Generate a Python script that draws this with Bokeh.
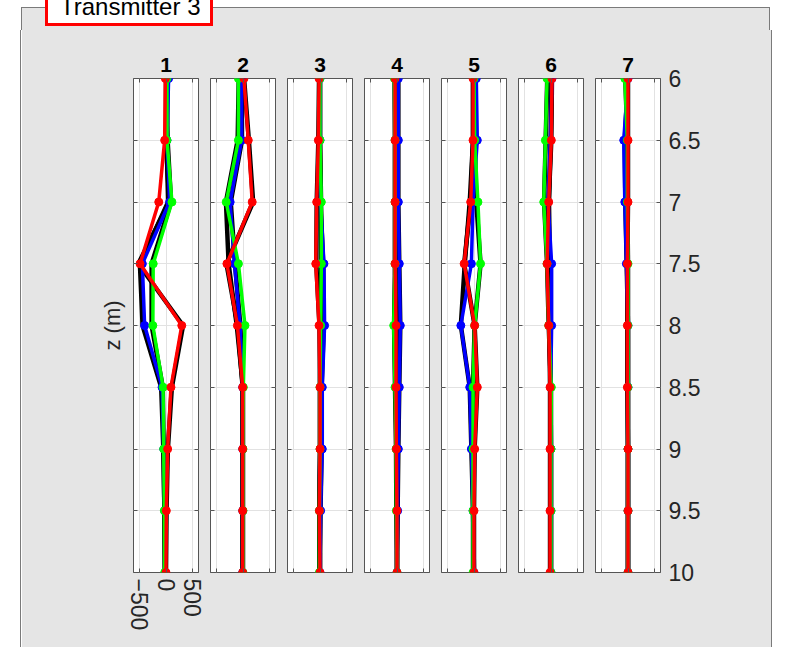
from bokeh.plotting import figure
from bokeh.layouts import row, column
from bokeh.models import Range1d, FixedTicker, LinearAxis, Div, CustomJSTickFormatter
from bokeh.embed import file_html
from bokeh.resources import INLINE

# ---------------- data ----------------
depth = [6, 6.5, 7, 7.5, 8, 8.5, 9, 9.5, 10]
panel_titles = ["1", "2", "3", "4", "5", "6", "7"]
x_ticks = [-500, 0, 500]
x_tick_labels = ["\u2212500", "0", "500"]
y_ticks = [6, 6.5, 7, 7.5, 8, 8.5, 9, 9.5, 10]
y_tick_labels = ["6", "6.5", "7", "7.5", "8", "8.5", "9", "9.5", "10"]
box_title = "Transmitter 3"
y_label = "z (m)"

blue_vals = [
    [49, 19, 68, -444, -401, -74, -43, -25, -12],
    [-25, -25, -241, -160, -55, -6, -6, -6, -6],
    [0, 0, 12, 74, 86, 43, 43, 12, 0],
    [25, 25, 25, 43, 62, 43, 25, 12, 0],
    [43, 62, -18, -49, -247, -80, -49, -18, 0],
    [18, -12, -55, 12, 12, -6, 0, 0, 0],
    [0, -80, -60, -30, 0, 0, 0, 0, 0],
]
green_vals = [
    [19, 19, 111, -240, -247, -55, -43, -31, -25],
    [-86, -86, -315, -86, 37, 6, 0, 0, 0],
    [0, 0, 25, 25, 12, 0, 0, -12, -12],
    [-49, -37, -37, -37, -62, -37, -18, -12, 0],
    [0, 12, 74, 123, 12, -18, -18, -18, -18],
    [-74, -105, -136, -74, -43, 6, 0, 0, 0],
    [-60, -12, -12, 0, 0, 0, 0, 0, 0],
]
red_vals = [
    [-12, -25, -136, -487, 296, 93, 31, 6, 0],
    [18, 99, 173, -302, -105, -6, -6, -6, -6],
    [-18, -31, -62, -80, -18, 0, 0, -12, 0],
    [-37, -37, -37, -37, -18, -18, -12, 0, 0],
    [-18, -18, -62, -185, 12, 62, 12, 0, 0],
    [18, 6, -43, -74, -43, -18, -18, -18, -18],
    [0, 0, 0, -12, -12, -12, 0, 0, 0],
]
black_vals_a = [
    [30, 10, 40, -490, -440, -90, -50, -30, -15],
    [-20, -20, -230, -150, -50, -6, -6, -6, -6],
    [0, 0, 10, 60, 70, 30, 30, 10, 0],
    [25, 25, 25, 43, 62, 43, 25, 12, 0],
    [-18, -18, -80, -173, -247, -80, -49, -18, 0],
    [12, -6, -40, -20, -25, -10, 0, 0, 0],
    [0, -60, -50, -25, 0, 0, 0, 0, 0],
]
black_vals_b = [
    [10, 30, 95, -270, -270, -60, -45, -30, -25],
    [-80, -100, -320, -270, -117, 0, 0, 0, 0],
    [0, 0, 20, 20, 10, 0, 0, -12, -12],
    [-45, -37, -37, -37, -55, -37, -18, -12, 0],
    [0, 12, 43, 123, 12, -18, -18, -18, -18],
    [-70, -100, -130, -74, -43, 0, 0, 0, 0],
    [-50, -12, -12, 0, 0, 0, 0, 0, 0],
]
black_vals_c = [
    [0, 0, 60, -520, 320, 110, 35, 10, 0],
    [20, 110, 190, -310, -100, -6, -6, -6, -6],
    [-18, -31, -62, -70, -10, 0, 0, -12, 0],
    [-37, -37, -37, -37, -18, -18, -12, 0, 0],
    [-18, -18, -62, -185, 12, 62, 12, 0, 0],
    [18, 6, -43, -60, -30, -18, -18, -18, -18],
    [0, 0, 0, -12, -12, -12, 0, 0, 0],
]

# ---------------- style ----------------
BG = "#e5e5e5"
EDGE = "#7a7a7a"
AXC = "#555555"
GRID = "#e2e2e2"
FONT = "Liberation Sans"
TXT = "#262626"

hide = CustomJSTickFormatter(code="return ''")


def style_axis(ax, ticks):
    ax.ticker = FixedTicker(ticks=ticks)
    ax.major_tick_in = 4
    ax.major_tick_out = 0
    ax.minor_tick_in = 0
    ax.minor_tick_out = 0
    ax.major_tick_line_color = AXC
    ax.axis_line_color = None
    ax.major_label_text_font = FONT
    ax.major_label_text_color = TXT
    ax.major_label_text_font_size = "23px"


def hide_labels(ax):
    ax.formatter = hide
    ax.major_label_standoff = 0
    ax.major_label_text_font_size = "1px"


figs = []
for i, title in enumerate(panel_titles):
    first = i == 0
    last = i == len(panel_titles) - 1
    w = 182 if (first or last) else 77
    p = figure(width=w, height=617,
               x_range=Range1d(-610, 610), y_range=Range1d(10, 6),
               output_backend="svg", toolbar_location=None,
               min_border_left=111 if first else 6,
               min_border_right=111 if last else 6,
               min_border_top=48, min_border_bottom=75,
               background_fill_color="white", border_fill_color=BG,
               outline_line_color=AXC, outline_line_width=1,
               styles={"background-color": BG})
    p.add_layout(LinearAxis(), "above")
    p.add_layout(LinearAxis(), "right")
    for ax in p.xaxis:
        style_axis(ax, x_ticks)
    for ax in p.yaxis:
        style_axis(ax, y_ticks)

    bottom = p.below[0]
    top = p.above[0]
    left = p.left[0]
    right = p.right[0]
    hide_labels(top)
    if first:
        bottom.major_label_overrides = {t: s for t, s in zip(x_ticks, x_tick_labels)}
        bottom.major_label_orientation = "vertical"
        bottom.major_label_standoff = 6
        left.axis_label = y_label
        left.axis_label_text_font = FONT
        left.axis_label_text_font_size = "22px"
        left.axis_label_text_font_style = "normal"
        left.axis_label_text_color = TXT
        left.axis_label_standoff = 9
    else:
        hide_labels(bottom)
    hide_labels(left)
    if last:
        right.major_label_overrides = {t: s for t, s in zip(y_ticks, y_tick_labels)}
        right.major_label_standoff = 8
    else:
        hide_labels(right)

    p.xgrid.ticker = FixedTicker(ticks=x_ticks)
    p.ygrid.ticker = FixedTicker(ticks=y_ticks)
    p.xgrid.grid_line_color = GRID
    p.ygrid.grid_line_color = GRID

    p.title.text = title
    p.title.align = "center"
    p.title.text_font = FONT
    p.title.text_font_size = "21px"
    p.title.text_font_style = "bold"
    p.title.text_color = "black"
    p.title.standoff = 14

    for vals in (black_vals_a, black_vals_b, black_vals_c):
        p.line(vals[i], depth, line_color="black", line_width=4.5)
    for vals, c in ((blue_vals, "#0000ff"), (green_vals, "#00ff00"), (red_vals, "#ff0000")):
        p.line(vals[i], depth, line_color=c, line_width=3.5)
        p.scatter(vals[i], depth, color=c, size=8)
    figs.append(p)

top_html = (
    '<div style="position:relative;width:785px;height:30px;overflow:hidden;background:#ffffff;">'
    f'<div style="position:absolute;left:21px;top:7px;width:749px;height:40px;background:{BG};'
    f'border-left:1px solid {EDGE};border-top:1px solid {EDGE};border-right:1px solid {EDGE};"></div>'
    '<div style="position:absolute;box-sizing:border-box;left:45px;top:-11px;width:168px;height:37px;'
    'background:#ffffff;border:3px solid #ff0000;padding-left:12px;'
    f'font-family:\'{FONT}\';font-size:24px;line-height:30px;color:#000;white-space:nowrap;">'
    f'{box_title}</div></div>'
)
top_div = Div(text=top_html, width=785, height=30, margin=0)
left_div = Div(text=f'<div style="width:21px;height:617px;background:#fff;border-right:1px solid {EDGE};"></div>',
               width=22, height=617, margin=0)
right_div = Div(text=f'<div style="width:13px;height:617px;background:#fff;border-left:1px solid {EDGE};"></div>',
                width=14, height=617, margin=0)

panels_row = row(*figs, spacing=0, styles={"background-color": BG})
layout = column(top_div, row(left_div, panels_row, right_div, spacing=0), spacing=0)

open("out.html", "w").write(file_html(layout, INLINE))
